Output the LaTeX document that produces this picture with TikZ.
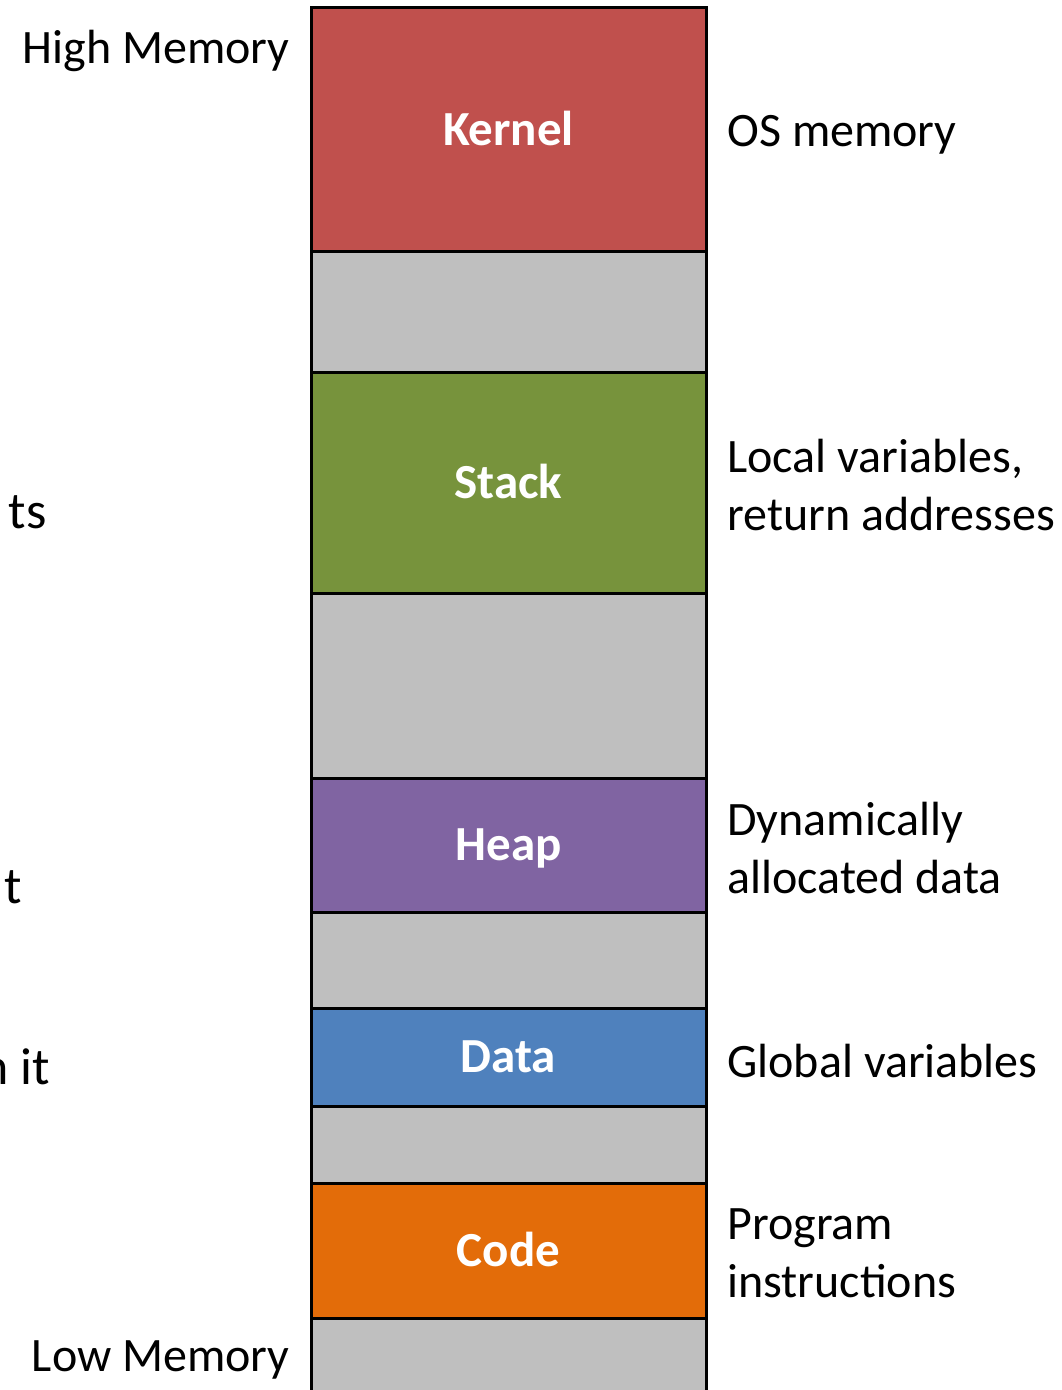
\documentclass[tikz,border=0pt]{standalone}
\usepackage{fontspec}
\setmainfont{Carlito}
\definecolor{kernelred}{HTML}{C0504D}
\definecolor{stackgreen}{HTML}{77933C}
\definecolor{heappurple}{HTML}{8064A2}
\definecolor{datablue}{HTML}{4F81BD}
\definecolor{codeorange}{HTML}{E36C09}
\definecolor{freegray}{HTML}{BFBFBF}
\begin{document}
\begin{tikzpicture}[x=0.5pt, y=-0.5pt,
    segment/.style={draw=black, line width=1.5pt, minimum width=197.5pt, inner sep=0pt, outer sep=0pt,
      text height=16pt, text depth=0.5pt, text=white, font=\fontsize{24.5}{29}\selectfont\bfseries},
    note/.style={anchor=west, align=left, inner sep=0pt, font=\fontsize{24}{29}\selectfont}]
  \useasboundingbox (0,0) rectangle (1061,1390);
  \clip (0,0) rectangle (1061,1390);
  % Memory segments, top to bottom
  \node [segment, fill=kernelred, minimum height=122pt] (kernel) at (508.5, 130) {Kernel};
  \node [segment, fill=freegray, minimum height=60pt] (gap-1) at (508.5, 312) {};
  \node [segment, fill=stackgreen, minimum height=110.5pt] (stack) at (508.5, 482.5) {Stack};
  \node [segment, fill=freegray, minimum height=92.5pt] (gap-2) at (508.5, 685.5) {};
  \node [segment, fill=heappurple, minimum height=67pt] (heap) at (508.5, 845) {Heap};
  \node [segment, fill=freegray, minimum height=48pt] (gap-3) at (508.5, 960) {};
  \node [segment, fill=datablue, minimum height=49pt] (data) at (508.5, 1057) {Data};
  \node [segment, fill=freegray, minimum height=38.5pt] (gap-4) at (508.5, 1144.5) {};
  \node [segment, fill=codeorange, minimum height=67.5pt] (code) at (508.5, 1250.5) {Code};
  \node [segment, fill=freegray, minimum height=41pt] (gap-5) at (508.5, 1359) {};
  % Right side notes
  \node [note] (os-note) at (727, 135) {OS memory};
  \node [note] (stack-note) at (727, 485) {Local variables,\\return addresses};
  \node [note] (heap-note) at (727, 848) {Dynamically\\allocated data};
  \node [note] (data-note) at (727, 1061) {Global variables};
  \node [note] (code-note) at (727, 1253) {Program\\instructions};
  % Left side
  \node [note, anchor=east] (high) at (290, 51) {High Memory};
  \node [note, anchor=east] (low) at (290, 1360) {Low Memory};
  \node [note, anchor=east, font=\fontsize{26}{29}\selectfont] (cut-1) at (47, 512) {ts};
  \node [note, anchor=east, font=\fontsize{26}{29}\selectfont] (cut-2) at (22, 887) {t};
  \node [note, anchor=east, font=\fontsize{26}{29}\selectfont] (cut-3) at (50, 1067) {n it};
\end{tikzpicture}
\end{document}
